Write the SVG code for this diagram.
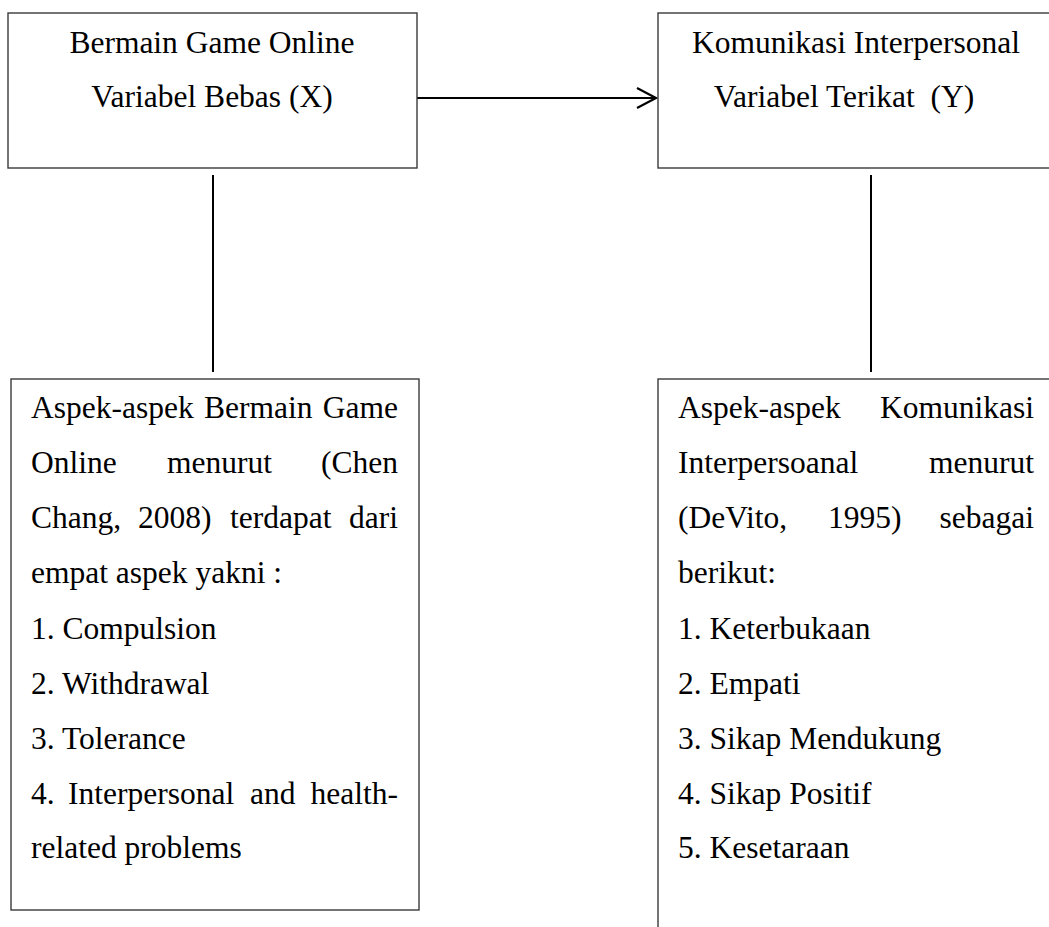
<svg xmlns="http://www.w3.org/2000/svg" width="1049" height="927" viewBox="0 0 1049 927">
<style>
.box{fill:#fff;stroke:#3a3a3a;stroke-width:1.4}
.t{font-family:"Liberation Serif","Times New Roman",serif;font-size:31.5px;fill:#000}
.c{text-anchor:middle}
.e{text-anchor:end}
.con{stroke:#000;stroke-width:2;fill:none}
</style>
<rect width="1049" height="927" fill="#fff"/>
<defs>
<marker id="arr" markerUnits="userSpaceOnUse" markerWidth="24" markerHeight="24" refX="20" refY="11" orient="auto" viewBox="0 0 24 24">
<path d="M1,1 L20,11 L1,21" fill="none" stroke="#000" stroke-width="2.2"/>
</marker>
</defs>
<g id="connectors">
<line class="con" x1="417" y1="98" x2="656" y2="98" marker-end="url(#arr)"/>
<line class="con" x1="213" y1="175" x2="213" y2="372"/>
<line class="con" x1="871" y1="175" x2="871" y2="372"/>
</g>
<g id="node-x">
<rect class="box" x="8" y="13" width="409" height="155"/>
<text class="t c" x="212" y="53">Bermain Game Online</text>
<text class="t c" x="212" y="107">Variabel Bebas (X)</text>
</g>
<g id="node-y">
<rect class="box" x="658" y="13" width="400" height="155"/>
<text class="t c" x="856" y="53">Komunikasi Interpersonal</text>
<text class="t c" x="844" y="107" xml:space="preserve">Variabel Terikat  (Y)</text>
</g>
<g id="aspek-x">
<rect class="box" x="11" y="379" width="408" height="531"/>
<text class="t" x="31" y="418">Aspek-aspek</text>
<text class="t" x="204" y="418">Bermain</text>
<text class="t e" x="398" y="418">Game</text>
<text class="t" x="31" y="473">Online</text>
<text class="t" x="167" y="473">menurut</text>
<text class="t e" x="398" y="473">(Chen</text>
<text class="t" x="31" y="528">Chang,</text>
<text class="t" x="138" y="528">2008)</text>
<text class="t" x="230" y="528">terdapat</text>
<text class="t e" x="398" y="528">dari</text>
<text class="t" x="31" y="583">empat aspek yakni :</text>
<text class="t" x="31" y="639">1. Compulsion</text>
<text class="t" x="31" y="694">2. Withdrawal</text>
<text class="t" x="31" y="749">3. Tolerance</text>
<text class="t" x="31" y="804">4.</text>
<text class="t" x="68" y="804">Interpersonal</text>
<text class="t" x="250" y="804">and</text>
<text class="t e" x="398" y="804">health-</text>
<text class="t" x="31" y="858">related problems</text>
</g>
<g id="aspek-y">
<rect class="box" x="658" y="379" width="400" height="560"/>
<text class="t" x="678" y="418">Aspek-aspek</text>
<text class="t e" x="1034" y="418">Komunikasi</text>
<text class="t" x="678" y="473">Interpersoanal</text>
<text class="t e" x="1034" y="473">menurut</text>
<text class="t" x="678" y="528">(DeVito,</text>
<text class="t" x="828" y="528">1995)</text>
<text class="t e" x="1034" y="528">sebagai</text>
<text class="t" x="678" y="583">berikut:</text>
<text class="t" x="678" y="639">1. Keterbukaan</text>
<text class="t" x="678" y="694">2. Empati</text>
<text class="t" x="678" y="749">3. Sikap Mendukung</text>
<text class="t" x="678" y="804">4. Sikap Positif</text>
<text class="t" x="678" y="858">5. Kesetaraan</text>
</g>
</svg>
